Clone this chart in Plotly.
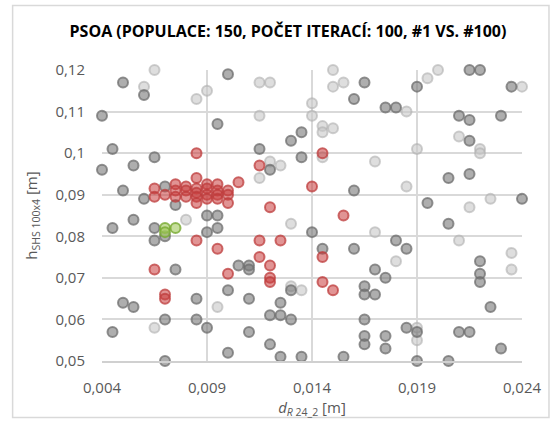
import plotly.graph_objects as go

# Population #1 – dark grey individuals
gray_x = [0.0050, 0.0060, 0.0100, 0.0040, 0.0095, 0.0045, 0.0040, 0.0055, 0.0065, 0.0050,
          0.0060, 0.0070, 0.0075, 0.0090, 0.0095, 0.0090, 0.0095, 0.0045, 0.0055, 0.0065,
          0.0065, 0.0070, 0.0075, 0.0050, 0.0055, 0.0085, 0.0100, 0.0070, 0.0085, 0.0090,
          0.0045, 0.0100, 0.0070, 0.0105, 0.0110, 0.0110, 0.0110, 0.0125, 0.0120, 0.0125,
          0.0130, 0.0110, 0.0120, 0.0125, 0.0135, 0.0155, 0.0130, 0.0140, 0.0145, 0.0160,
          0.0170, 0.0175, 0.0165, 0.0165, 0.0170, 0.0165, 0.0165, 0.0165, 0.0175, 0.0175,
          0.0160, 0.0120, 0.0115, 0.0135, 0.0135, 0.0130, 0.0160, 0.0165, 0.0175, 0.0180,
          0.0190, 0.0215, 0.0220, 0.0235, 0.0210, 0.0215, 0.0230, 0.0215, 0.0205, 0.0215,
          0.0240, 0.0195, 0.0205, 0.0180, 0.0185, 0.0220, 0.0220, 0.0220, 0.0225, 0.0185,
          0.0190, 0.0210, 0.0215, 0.0230, 0.0190, 0.0205]
gray_y = [0.117, 0.114, 0.119, 0.109, 0.107, 0.101, 0.096, 0.097, 0.099, 0.091,
          0.089, 0.092, 0.0875, 0.085, 0.085, 0.081, 0.082, 0.082, 0.084, 0.082,
          0.079, 0.080, 0.072, 0.064, 0.063, 0.065, 0.067, 0.060, 0.060, 0.058,
          0.057, 0.052, 0.050, 0.073, 0.073, 0.072, 0.065, 0.064, 0.061, 0.061,
          0.060, 0.057, 0.054, 0.051, 0.051, 0.051, 0.067, 0.081, 0.077, 0.077,
          0.072, 0.070, 0.068, 0.066, 0.066, 0.060, 0.056, 0.054, 0.056, 0.053,
          0.091, 0.096, 0.101, 0.099, 0.105, 0.103, 0.113, 0.117, 0.111, 0.111,
          0.116, 0.120, 0.120, 0.116, 0.109, 0.108, 0.109, 0.103, 0.094, 0.095,
          0.089, 0.088, 0.083, 0.079, 0.077, 0.074, 0.071, 0.069, 0.063, 0.058,
          0.057, 0.057, 0.057, 0.053, 0.050, 0.050]

# Light grey individuals
light_x = [0.0065, 0.0060, 0.0090, 0.0085, 0.0115, 0.0120, 0.0150, 0.0150, 0.0155, 0.0140,
           0.0140, 0.0115, 0.0145, 0.0150, 0.0145, 0.0145, 0.0120, 0.0125, 0.0115, 0.0170,
           0.0200, 0.0195, 0.0240, 0.0185, 0.0210, 0.0220, 0.0220, 0.0190, 0.0185, 0.0225,
           0.0215, 0.0080, 0.0130, 0.0170, 0.0210, 0.0180, 0.0235, 0.0235, 0.0130, 0.0135,
           0.0095, 0.0065, 0.0190, 0.0190]
light_y = [0.120, 0.116, 0.115, 0.113, 0.117, 0.117, 0.120, 0.116, 0.117, 0.112,
           0.109, 0.109, 0.1065, 0.106, 0.105, 0.099, 0.098, 0.097, 0.094, 0.098,
           0.120, 0.118, 0.116, 0.110, 0.104, 0.101, 0.100, 0.101, 0.092, 0.089,
           0.087, 0.084, 0.083, 0.081, 0.079, 0.074, 0.076, 0.072, 0.068, 0.067,
           0.063, 0.058, 0.058, 0.055]

# Population #100 – red individuals
red_x = [0.0085, 0.0085, 0.0105,
         0.0065, 0.0065, 0.0070, 0.0075, 0.0075, 0.0075, 0.0080, 0.0080, 0.0080,
         0.0085, 0.0085, 0.0085, 0.0085, 0.0090, 0.0090, 0.0090, 0.0090,
         0.0095, 0.0095, 0.0095, 0.0095, 0.0100, 0.0100, 0.0100,
         0.0115, 0.0145, 0.0140, 0.0120, 0.0155, 0.0085, 0.0095, 0.0100, 0.0065,
         0.0070, 0.0070, 0.0115, 0.0125, 0.0115, 0.0120, 0.0120, 0.0120, 0.0145,
         0.0145, 0.0150]
red_y = [0.100, 0.094, 0.093,
         0.0915, 0.0895, 0.090, 0.0925, 0.091, 0.0895, 0.092, 0.091, 0.0895,
         0.0915, 0.0905, 0.0895, 0.088, 0.0925, 0.0915, 0.090, 0.089,
         0.0925, 0.091, 0.090, 0.089, 0.091, 0.090, 0.088,
         0.097, 0.100, 0.092, 0.087, 0.085, 0.079, 0.077, 0.071, 0.072,
         0.066, 0.065, 0.079, 0.079, 0.075, 0.073, 0.070, 0.069, 0.075,
         0.069, 0.067]

# Best individuals – green
green_x = [0.0070, 0.0070, 0.0075]
green_y = [0.082, 0.081, 0.082]

x_ticks_start, x_tick_step = 0.004, 0.005
x_range = [0.004, 0.024]
y_range = [0.05, 0.12]

TICK_COLOR = "#595959"
GRID_COLOR = "#d9d9d9"


def series(x, y, fill, edge):
    return go.Scatter(
        x=x, y=y, mode="markers", cliponaxis=False, showlegend=False,
        marker=dict(size=10, color=fill, line=dict(color=edge, width=2)),
        hoverinfo="x+y",
    )


fig = go.Figure()
fig.add_trace(series(light_x, light_y, "rgba(200,200,200,0.6)", "rgba(175,175,175,0.6)"))
fig.add_trace(series(gray_x, gray_y, "rgba(120,120,120,0.6)", "rgba(110,110,110,0.75)"))
fig.add_trace(series(red_x, red_y, "rgba(200,60,60,0.55)", "rgba(190,60,60,0.75)"))
fig.add_trace(series(green_x, green_y, "rgba(160,200,90,0.6)", "rgba(120,170,50,0.8)"))

W, H = 557, 421
L, R, T, B = 101.5, 35, 70, 58.3
pw, ph = W - L - R, H - T - B


def px_to_paper_x(px):
    return (px - L) / pw


def px_to_paper_y(py):
    return (H - B - py) / ph


fig.update_layout(
    width=W, height=H,
    margin=dict(l=L, r=R, t=T, b=B, pad=0),
    paper_bgcolor="white", plot_bgcolor="white",
    separators=", ",
    font=dict(family="Open Sans", color=TICK_COLOR, size=15),
    title=dict(
        text="<b>PSOA (POPULACE: 150, POČET ITERACÍ: 100, #1 VS. #100)</b>",
        xref="container", x=288 / W, xanchor="center",
        yref="container", y=1 - 31 / H, yanchor="middle",
        font=dict(family="Open Sans", size=16, color="#000000"),
    ),
    xaxis=dict(
        range=x_range, tick0=x_ticks_start, dtick=x_tick_step,
        showgrid=True, gridcolor=GRID_COLOR, gridwidth=1.5,
        zeroline=False, showline=True, linecolor="#d0d0d0", linewidth=1.5,
        ticks="", ticklabelstandoff=12,
        tickfont=dict(size=15, color=TICK_COLOR),
        title=dict(
            text="<i>d</i><sub><i>R</i> 24_2</sub> [m]",
            font=dict(size=15, color=TICK_COLOR), standoff=2,
        ),
    ),
    yaxis=dict(
        range=y_range, dtick=0.01,
        showgrid=True, gridcolor=GRID_COLOR, gridwidth=1.5,
        zeroline=False, showline=False,
        ticks="", ticklabelstandoff=16,
        tickfont=dict(size=15, color=TICK_COLOR),
        title=dict(
            text="h<sub>SHS 100x4</sub> [m]",
            font=dict(size=15, color=TICK_COLOR), standoff=14,
        ),
    ),
    shapes=[dict(
        type="rect", xref="paper", yref="paper", layer="below",
        x0=px_to_paper_x(12), x1=px_to_paper_x(549),
        y0=px_to_paper_y(419.5), y1=px_to_paper_y(5),
        line=dict(color="#d9d9d9", width=1.5), fillcolor="rgba(0,0,0,0)",
    )],
)

fig.write_html("out.html")
